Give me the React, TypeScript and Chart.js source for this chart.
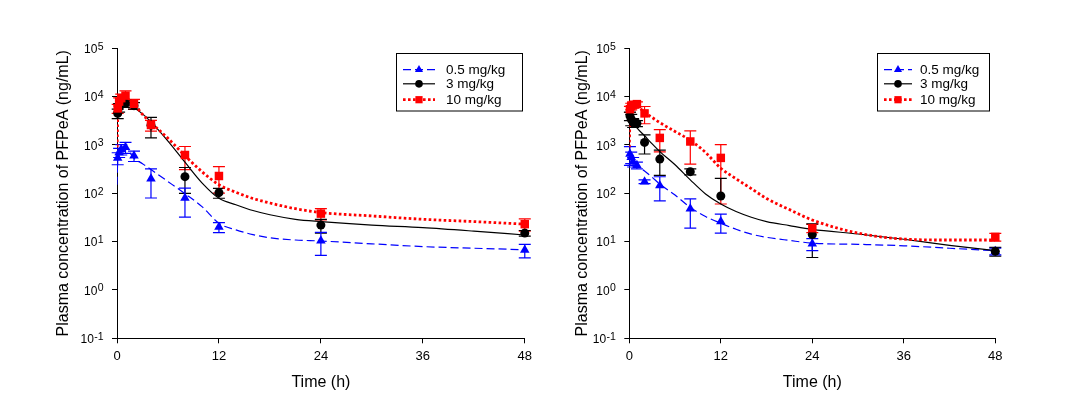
import React, { useEffect, useRef } from 'react';
import { Chart, registerables } from 'chart.js';

Chart.register(...registerables);

// ---------------- data ----------------
const OBS_TIMES = [0.083, 0.25, 0.5, 1, 2, 4, 8, 12, 24, 48];
const FIT_TIMES = [0, 0.1, 0.25, 0.5, 1, 2, 3, 4, 6, 8, 10, 12, 14, 16, 18, 21, 24, 30, 36, 42, 48];

const X_TICKS = [0, 12, 24, 36, 48];
const Y_TICKS = [0.1, 1, 10, 100, 1000, 10000, 100000];
const SERIES_LABELS = ['0.5 mg/kg', '3 mg/kg', '10 mg/kg'];
const X_TITLE = 'Time (h)';
const Y_TITLE = 'Plasma concentration of PFPeA (ng/mL)';

// left panel: observed mean and SD
const A_OBS_LOW = [540, 700, 820, 900, 600, 200, 80, 20, 10.4, 6.7];
const A_SD_LOW = [150, 150, 200, 230, 145, 120, 48, 4.7, 5.2, 2.1];
const A_OBS_MID = [4500, 6000, 7000, 7200, 6500, 2570, 221, 103, 22, 15];
const A_SD_MID = [1000, 1200, 1000, 1200, 1000, 1170, 121, 24, 7, 2];
const A_OBS_HIGH = [5700, 7900, 9300, 10500, 7100, 2590, 620, 228, 38, 23];
const A_SD_HIGH = [1200, 1500, 2000, 2600, 1650, 650, 310, 127, 10, 6.5];
// left panel: fitted curves
const A_FIT_LOW = [150, 560, 720, 830, 860, 530, 410, 310, 175, 98, 53, 24, 17.5, 14, 12, 10.8, 10.3, 9, 7.9, 7.3, 6.8];
const A_FIT_MID = [2500, 4800, 6000, 6900, 7200, 5900, 4400, 3000, 1200, 440, 165, 79, 58, 44, 36, 29, 26, 22, 19.5, 16.5, 13.7];
const A_FIT_HIGH = [560, 5000, 7500, 8800, 9200, 6900, 4300, 2900, 1370, 600, 280, 150, 105, 78, 63, 48, 40, 34, 29, 26, 23];

// right panel: observed mean and SD
const B_OBS_LOW = [650, 560, 450, 380, 174, 145, 48, 26, 9, 6.3];
const B_SD_LOW = [270, 150, 100, 60, 15, 75, 29, 11, 2.5, 1];
const B_OBS_MID = [4000, 3400, 2900, 2800, 1130, 510, 280, 88, 14, 6.3];
const B_SD_MID = [800, 900, 600, 400, 480, 275, 40, 116, 9.3, 1.3];
const B_OBS_HIGH = [5500, 6300, 6800, 7000, 4500, 1400, 1180, 540, 19, 12.5];
const B_SD_HIGH = [800, 1000, 1000, 800, 1750, 680, 780, 480, 3.7, 2.3];
// right panel: fitted curves
const B_FIT_LOW = [750, 700, 620, 520, 370, 290, 215, 155, 92, 51, 33, 24, 18, 14.3, 12.3, 10.6, 9.3, 8.8, 8.2, 7.3, 6.5];
const B_FIT_MID = [4900, 4300, 3600, 2900, 2250, 1550, 1050, 730, 390, 190, 97, 60, 42, 32, 26, 21.5, 18, 14.4, 11.2, 8.4, 6.5];
const B_FIT_HIGH = [900, 4000, 5500, 6300, 6300, 4700, 3700, 2900, 1900, 1250, 700, 330, 200, 125, 78, 46, 28, 15, 11.3, 10.8, 10.8];

// ---------------- styles ----------------
const FONT = "'Liberation Sans', Arial, Helvetica, sans-serif";
const STYLES = [
  { color: '#0000ff', dash: [8, 4], width: 1.2, pointStyle: 'triangle', radius: 5.5 },
  { color: '#000000', dash: [] as number[], width: 1.2, pointStyle: 'circle', radius: 4.5 },
  { color: '#ff0000', dash: [2.6, 2.4], width: 2.8, pointStyle: 'rect', radius: 6 },
];

function drawMarker(ctx: CanvasRenderingContext2D, style: string, r: number, x: number, y: number, color: string) {
  ctx.save();
  ctx.fillStyle = color;
  ctx.beginPath();
  if (style === 'triangle') {
    let rad = 0;
    ctx.moveTo(x + Math.sin(rad) * r, y - Math.cos(rad) * r);
    rad += (2 * Math.PI) / 3;
    ctx.lineTo(x + Math.sin(rad) * r, y - Math.cos(rad) * r);
    rad += (2 * Math.PI) / 3;
    ctx.lineTo(x + Math.sin(rad) * r, y - Math.cos(rad) * r);
    ctx.closePath();
  } else if (style === 'rect') {
    const s = Math.SQRT1_2 * r;
    ctx.rect(x - s, y - s, 2 * s, 2 * s);
  } else {
    ctx.arc(x, y, r, 0, Math.PI * 2);
  }
  ctx.fill();
  ctx.restore();
}

type Panel = {
  width: number;
  area: { left: number; right: number; top: number; bottom: number };
  yTitleCenter: number;
  obs: number[][];
  sd: number[][];
  fit: number[][];
  legend: { x: number; y: number; w: number; h: number; x0: number; x1: number; tx: number; rows: number[] };
};

const H = 403;

const PANEL_A: Panel = {
  width: 537,
  area: { left: 117, right: 529, top: 48.3, bottom: 338.3 },
  yTitleCenter: 63.5,
  obs: [A_OBS_LOW, A_OBS_MID, A_OBS_HIGH],
  sd: [A_SD_LOW, A_SD_MID, A_SD_HIGH],
  fit: [A_FIT_LOW, A_FIT_MID, A_FIT_HIGH],
  legend: { x: 396.5, y: 53.5, w: 126, h: 57.5, x0: 403, x1: 435, tx: 446, rows: [69.7, 83.8, 99.7] },
};

const PANEL_B: Panel = {
  width: 538,
  area: { left: 92.3, right: 458.3, top: 48.3, bottom: 338.3 },
  yTitleCenter: 45.5,
  obs: [B_OBS_LOW, B_OBS_MID, B_OBS_HIGH],
  sd: [B_SD_LOW, B_SD_MID, B_SD_HIGH],
  fit: [B_FIT_LOW, B_FIT_MID, B_FIT_HIGH],
  legend: { x: 340.5, y: 53.5, w: 112, h: 57.5, x0: 347, x1: 375, tx: 383, rows: [69.7, 83.8, 99.7] },
};

function buildConfig(p: Panel): any {
  const scatterSets = [2, 1, 0].map((i) => ({
    label: SERIES_LABELS[i],
    data: OBS_TIMES.map((t, j) => ({ x: t, y: p.obs[i][j] })),
    sd: p.sd[i],
    showLine: false,
    pointStyle: STYLES[i].pointStyle,
    pointRadius: STYLES[i].radius,
    pointHoverRadius: STYLES[i].radius,
    pointBackgroundColor: STYLES[i].color,
    pointBorderColor: STYLES[i].color,
    pointBorderWidth: 0,
    borderColor: STYLES[i].color,
    clip: false,
  }));
  const lineSets = [2, 1, 0].map((i) => ({
    label: SERIES_LABELS[i] + ' fit',
    data: FIT_TIMES.map((t, j) => ({ x: t, y: p.fit[i][j] })),
    borderColor: STYLES[i].color,
    borderDash: STYLES[i].dash,
    borderWidth: STYLES[i].width,
    borderCapStyle: 'butt',
    pointRadius: 0,
    fill: false,
    cubicInterpolationMode: 'monotone',
  }));

  const errorBars = {
    id: 'errorBars',
    beforeDatasetsDraw(chart: any) {
      const { ctx } = chart;
      const xs = chart.scales.x;
      const ys = chart.scales.y;
      chart.data.datasets.forEach((ds: any) => {
        if (!ds.sd) return;
        ctx.save();
        ctx.strokeStyle = ds.borderColor;
        ctx.lineWidth = 1.2;
        ds.data.forEach((pt: any, j: number) => {
          const s = ds.sd[j];
          const px = xs.getPixelForValue(pt.x);
          const top = ys.getPixelForValue(pt.y + s);
          const lowV = pt.y - s;
          const mid = ys.getPixelForValue(pt.y);
          const bot = lowV > 0 ? ys.getPixelForValue(lowV) : mid;
          ctx.beginPath();
          ctx.moveTo(px, top);
          ctx.lineTo(px, bot);
          ctx.moveTo(px - 6, top);
          ctx.lineTo(px + 6, top);
          if (lowV > 0) {
            ctx.moveTo(px - 6, bot);
            ctx.lineTo(px + 6, bot);
          }
          ctx.stroke();
        });
        ctx.restore();
      });
    },
  };

  // y tick labels "10" with a raised exponent, placed through the y scale
  const powerLabels = {
    id: 'powerLabels',
    afterDraw(chart: any) {
      const { ctx } = chart;
      const ys = chart.scales.y;
      const rightEdge = ys.right - 13.5;
      ctx.save();
      ctx.fillStyle = '#000';
      ctx.textBaseline = 'alphabetic';
      Y_TICKS.forEach((v) => {
        const py = ys.getPixelForValue(v);
        const exp = String(Math.round(Math.log10(v)));
        ctx.font = `10.5px ${FONT}`;
        const ew = ctx.measureText(exp).width;
        ctx.textAlign = 'right';
        ctx.fillText(exp, rightEdge, py + 1.3);
        ctx.font = `12px ${FONT}`;
        ctx.fillText('10', rightEdge - ew - 0.3, py + 4.8);
      });
      ctx.restore();
    },
  };

  const boxLegend = {
    id: 'boxLegend',
    afterDraw(chart: any) {
      const { ctx } = chart;
      const L = p.legend;
      ctx.save();
      ctx.strokeStyle = '#000';
      ctx.lineWidth = 1;
      ctx.setLineDash([]);
      ctx.strokeRect(L.x, L.y, L.w, L.h);
      STYLES.forEach((s, i) => {
        const yy = L.rows[i];
        ctx.beginPath();
        ctx.setLineDash(s.dash);
        ctx.lineWidth = s.width;
        ctx.strokeStyle = s.color;
        ctx.moveTo(L.x0, yy);
        ctx.lineTo(L.x1, yy);
        ctx.stroke();
        ctx.setLineDash([]);
        drawMarker(ctx, s.pointStyle, s.radius * 0.85, (L.x0 + L.x1) / 2, yy, s.color);
        ctx.fillStyle = '#000';
        ctx.font = `13.5px ${FONT}`;
        ctx.textBaseline = 'middle';
        ctx.textAlign = 'left';
        ctx.fillText(SERIES_LABELS[i], L.tx, yy + 0.5);
      });
      ctx.restore();
    },
  };

  const a = p.area;
  return {
    type: 'line',
    data: { datasets: [...scatterSets, ...lineSets] },
    plugins: [errorBars, powerLabels, boxLegend],
    options: {
      responsive: false,
      animation: false,
      events: [],
      layout: { padding: { left: 0, top: a.top, right: p.width - a.right, bottom: 0 } },
      plugins: { legend: { display: false }, tooltip: { enabled: false }, title: { display: false } },
      scales: {
        x: {
          type: 'linear',
          min: 0,
          max: 48,
          afterBuildTicks: (s: any) => {
            s.ticks = X_TICKS.map((v) => ({ value: v }));
          },
          afterFit: (s: any) => {
            s.height = H - a.bottom;
          },
          grid: { drawOnChartArea: false, drawTicks: true, tickLength: 5, color: '#000', lineWidth: 1 },
          border: { display: true, color: '#000', width: 1 },
          ticks: { color: '#000', font: { family: FONT, size: 13 }, padding: 5, maxRotation: 0, autoSkip: false },
          title: {
            display: true,
            text: X_TITLE,
            color: '#000',
            font: { family: FONT, size: 16 },
            padding: { top: 0, bottom: 10.4 },
          },
        },
        y: {
          type: 'logarithmic',
          min: 0.1,
          max: 100000,
          afterBuildTicks: (s: any) => {
            s.ticks = Y_TICKS.map((v) => ({ value: v }));
          },
          afterFit: (s: any) => {
            s.width = a.left;
          },
          grid: { drawOnChartArea: false, drawTicks: true, tickLength: 5, color: '#000', lineWidth: 1 },
          border: { display: true, color: '#000', width: 1 },
          ticks: { display: false, autoSkip: false },
          title: {
            display: true,
            text: Y_TITLE,
            color: '#000',
            font: { family: FONT, size: 16 },
            padding: { top: p.yTitleCenter - 9.6, bottom: 0 },
          },
        },
      },
    },
  };
}

export default function App() {
  const leftRef = useRef<HTMLCanvasElement>(null);
  const rightRef = useRef<HTMLCanvasElement>(null);

  useEffect(() => {
    const c1 = new Chart(leftRef.current as HTMLCanvasElement, buildConfig(PANEL_A));
    const c2 = new Chart(rightRef.current as HTMLCanvasElement, buildConfig(PANEL_B));
    return () => {
      c1.destroy();
      c2.destroy();
    };
  }, []);

  return (
    <div style={{ position: 'fixed', left: 0, top: 0, width: 1075, height: H, background: '#fff' }}>
      <canvas
        ref={leftRef}
        width={PANEL_A.width}
        height={H}
        style={{ position: 'absolute', left: 0, top: 0, width: PANEL_A.width, height: H }}
      />
      <canvas
        ref={rightRef}
        width={PANEL_B.width}
        height={H}
        style={{ position: 'absolute', left: PANEL_A.width, top: 0, width: PANEL_B.width, height: H }}
      />
    </div>
  );
}
